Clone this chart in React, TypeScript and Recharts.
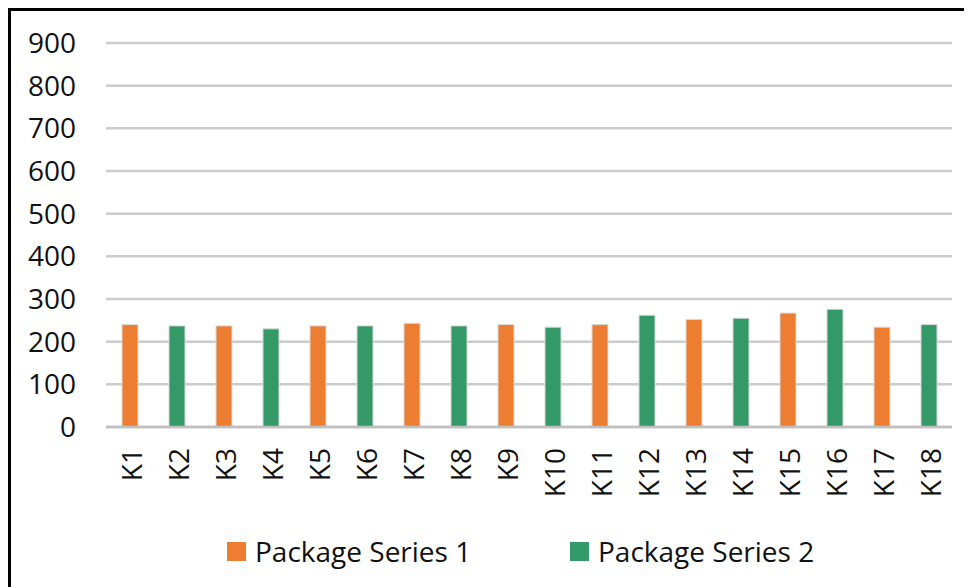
import { BarChart, Bar, XAxis, YAxis, CartesianGrid, Legend } from 'recharts';

const categories = ['K1', 'K2', 'K3', 'K4', 'K5', 'K6', 'K7', 'K8', 'K9', 'K10', 'K11', 'K12', 'K13', 'K14', 'K15', 'K16', 'K17', 'K18'];

// odd packages belong to series 1, even ones to series 2
const series1 = [240, null, 237, null, 237, null, 243, null, 240, null, 240, null, 252, null, 267, null, 234, null];
const series2 = [null, 237, null, 230, null, 237, null, 237, null, 234, null, 262, null, 255, null, 276, null, 240];

const yTicks = [0, 100, 200, 300, 400, 500, 600, 700, 800, 900];

const ORANGE = '#ED7D31';
const GREEN = '#339966';
const FONT = '"Open Sans", sans-serif';

const data = categories.map((name, i) => ({ name, s1: series1[i], s2: series2[i] }));

const legendItems = [
  { label: 'Package Series 1', color: ORANGE, left: 216 },
  { label: 'Package Series 2', color: GREEN, left: 559 },
];

const RotatedTick = (props: any) => {
  const { x, y, payload } = props;
  return (
    <g transform={`translate(${x + 2},${y + 21})`}>
      <text transform="rotate(-90)" textAnchor="end" dy="0.36em" fill="#111" fontSize={28} fontFamily={FONT}>
        {payload.value}
      </text>
    </g>
  );
};

const renderLegend = () => (
  <div style={{ position: 'relative', height: 0, width: 964 }}>
    {legendItems.map((item) => (
      <div
        key={item.label}
        style={{ position: 'absolute', left: item.left, top: 0, display: 'flex', alignItems: 'center', whiteSpace: 'nowrap' }}
      >
        <span style={{ display: 'inline-block', width: 19, height: 19, background: item.color, marginRight: 9 }} />
        <span style={{ fontFamily: FONT, fontSize: 28, color: '#111', lineHeight: '38px' }}>{item.label}</span>
      </div>
    ))}
  </div>
);

export default function App() {
  return (
    <div style={{ width: 964, height: 579, overflow: 'hidden' }}>
      <div style={{ width: 1000, height: 640, border: '3px solid #000', boxSizing: 'border-box' }}>
        <BarChart
          width={964}
          height={579}
          data={data}
          margin={{ top: 32, right: 23, bottom: 0, left: 0 }}
        >
          <CartesianGrid vertical={false} stroke="#cccccc" strokeWidth={2.5} />
          <XAxis
            dataKey="name"
            height={163}
            interval={0}
            tickSize={0}
            tickMargin={0}
            tick={<RotatedTick />}
            axisLine={{ stroke: '#bfbfbf', strokeWidth: 2.5 }}
            tickLine={false}
          />
          <YAxis
            width={95}
            domain={[0, 900]}
            ticks={yTicks}
            interval={0}
            tickSize={0}
            tickMargin={30}
            axisLine={false}
            tickLine={false}
            tick={{ fill: '#111', fontSize: 28, fontFamily: FONT }}
          />
          <Legend
            content={renderLegend}
            wrapperStyle={{ top: 521, left: 0, width: 964 }}
          />
          <Bar dataKey="s1" name="Package Series 1" stackId="pkg" fill={ORANGE} stroke="#d9d9d9" strokeWidth={1} barSize={16} isAnimationActive={false} />
          <Bar dataKey="s2" name="Package Series 2" stackId="pkg" fill={GREEN} stroke="#d9d9d9" strokeWidth={1} barSize={16} isAnimationActive={false} />
        </BarChart>
      </div>
    </div>
  );
}
